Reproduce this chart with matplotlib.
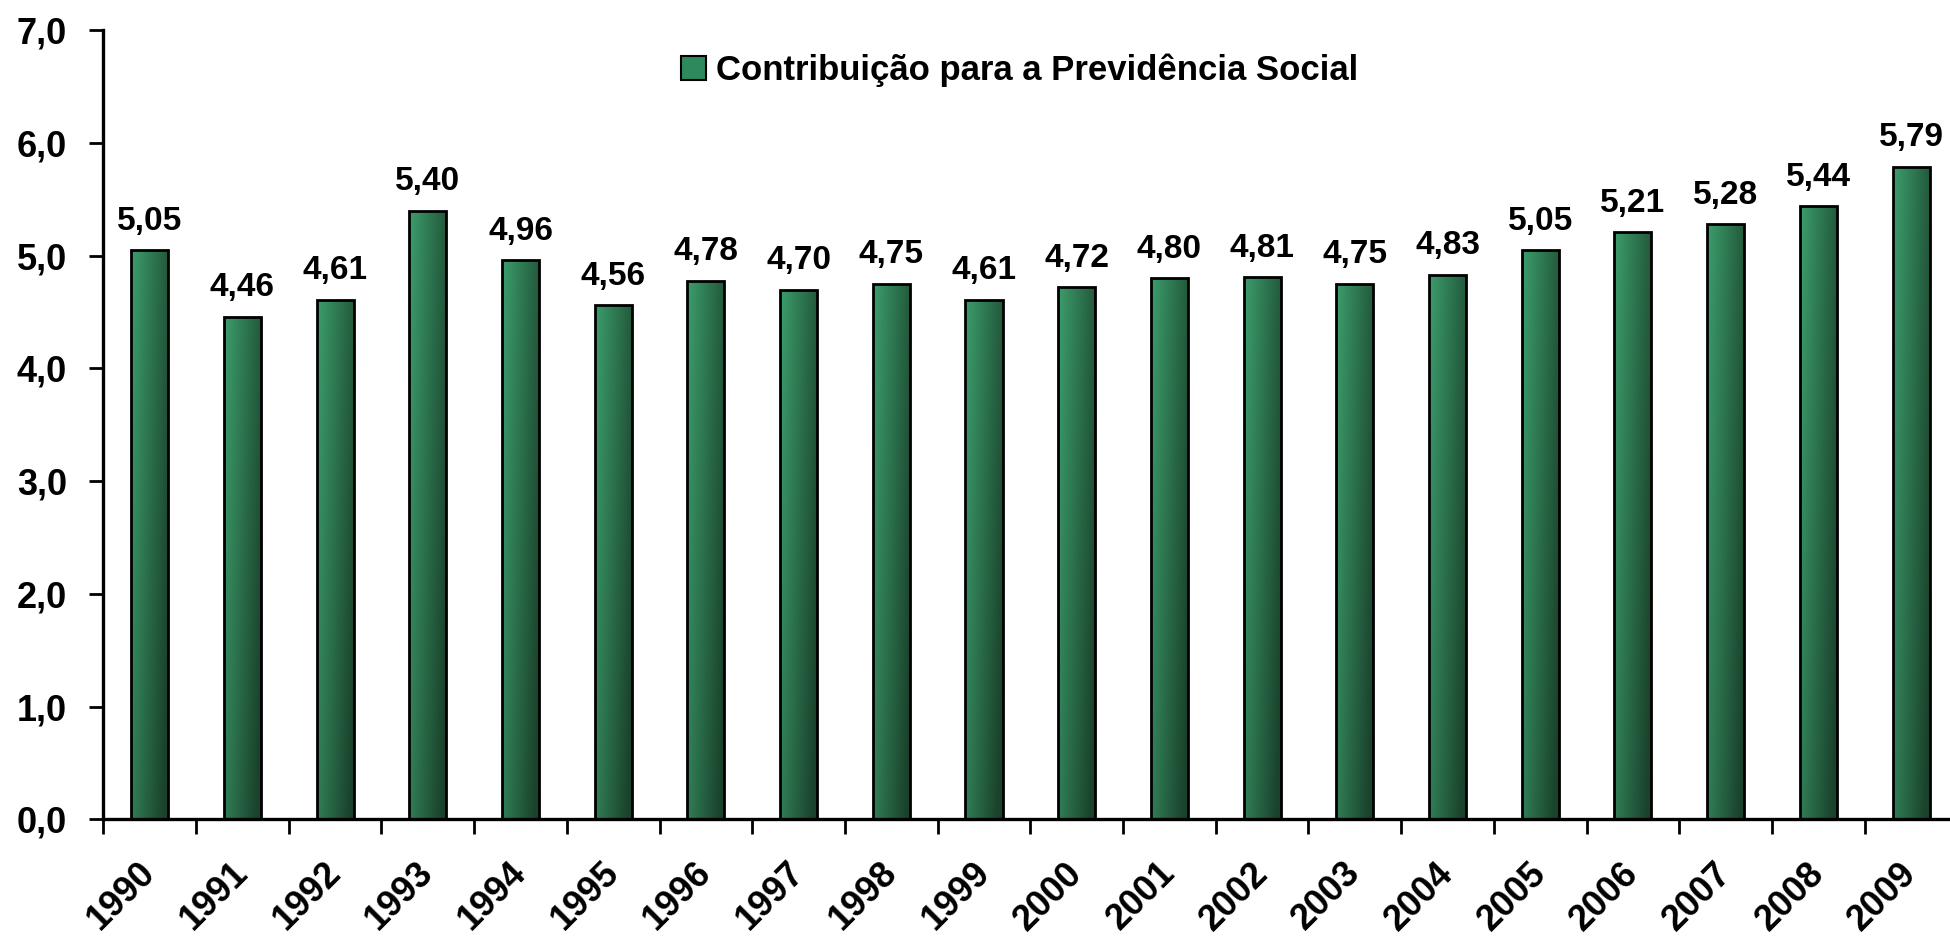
import matplotlib
matplotlib.use('Agg')
import matplotlib.pyplot as plt
import matplotlib.patches as mpatches
import matplotlib.transforms as mtransforms
import numpy as np

plt.rcParams['font.family'] = ['Liberation Sans', 'DejaVu Sans']
plt.rcParams['font.weight'] = 'bold'

anos = ['1990', '1991', '1992', '1993', '1994', '1995', '1996', '1997', '1998', '1999',
        '2000', '2001', '2002', '2003', '2004', '2005', '2006', '2007', '2008', '2009']
valores = [5.05, 4.46, 4.61, 5.40, 4.96, 4.56, 4.78, 4.70, 4.75, 4.61,
           4.72, 4.80, 4.81, 4.75, 4.83, 5.05, 5.21, 5.28, 5.44, 5.79]
yticks = [0, 1, 2, 3, 4, 5, 6, 7]
legenda = 'Contribuição para a Previdência Social'

fig = plt.figure(figsize=(19.5, 9.39), dpi=100)
ax = fig.add_axes([0.053, 0.1275, 0.947, 0.8402])

x = np.arange(len(anos))
bars = ax.bar(x, valores, width=0.40, color='none', edgecolor='black', linewidth=2, zorder=3)

# gradiente: claro em cima/esquerda, escuro embaixo/direita
claro = np.array([60, 158, 108]) / 255
escuro = np.array([26, 66, 44]) / 255
xx, yy = np.meshgrid(np.linspace(0, 1, 60), np.linspace(0, 1, 200))
s = np.clip(0.75 * xx + 0.35 * (1 - yy), 0, 1)
grad = claro[None, None, :] * (1 - s[..., None]) + escuro[None, None, :] * s[..., None]

for b in bars:
    x0, w, h = b.get_x(), b.get_width(), b.get_height()
    im = ax.imshow(grad, extent=[x0, x0 + w, 0, h], origin='lower', aspect='auto', zorder=2)
    im.set_clip_path(b)
    ax.text(x0 + w / 2, h + 0.12, f'{h:.2f}'.replace('.', ','), ha='center', va='bottom',
            fontsize=24, fontweight='bold')

ax.set_xlim(-0.5, 19.42)
ax.set_ylim(0, 7)
ax.set_yticks(yticks)
ax.set_yticklabels([f'{v:.1f}'.replace('.', ',') for v in yticks], fontsize=26, fontweight='bold')
ax.set_xticks(x)
ax.set_xticklabels(anos, rotation=45, ha='right', rotation_mode='anchor', fontsize=26, fontweight='bold')
ax.set_xticks(np.arange(-0.5, 19.5, 1), minor=True)
ax.tick_params(axis='x', which='major', length=0, pad=16)
ax.tick_params(axis='x', which='minor', length=11, width=2)
ax.tick_params(axis='y', length=10, width=2, pad=16)

desloc = mtransforms.ScaledTranslation(-0.12, -0.14, fig.dpi_scale_trans)
for lbl in ax.get_xticklabels():
    lbl.set_transform(lbl.get_transform() + desloc)

for lado in ['top', 'right']:
    ax.spines[lado].set_visible(False)
for lado in ['left', 'bottom']:
    ax.spines[lado].set_linewidth(2.4)
ax.spines['bottom'].set_zorder(4)

handle = mpatches.Patch(facecolor='#2e8a5c', edgecolor='black', linewidth=1.5)
fig.legend([handle], [legenda], loc='center', bbox_to_anchor=(0.523, 0.925), frameon=False,
           handlelength=0.7, handleheight=0.7, handletextpad=0.3,
           prop={'weight': 'bold', 'size': 25})

fig.savefig('out.png', dpi=100)
